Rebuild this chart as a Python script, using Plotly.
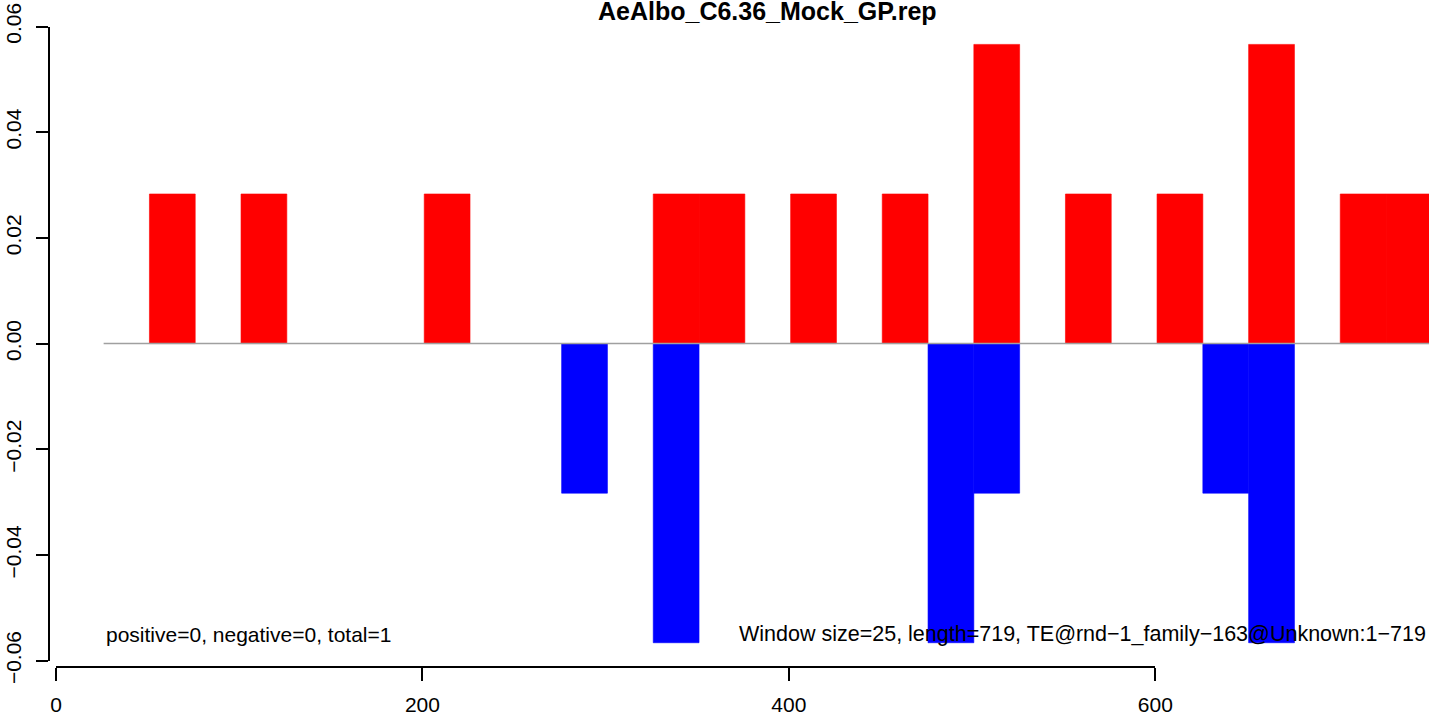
import plotly.graph_objects as go

# ---- data ----
window_size = 25
window_start = [1 + 25 * i for i in range(30)]  # window starts (1-based positions)
pos_values = [0, 0, 0.0283, 0, 0.0283, 0, 0, 0, 0.0283, 0,
              0, 0, 0, 0.0283, 0.0283, 0, 0.0283, 0, 0.0283, 0,
              0.0566, 0, 0.0283, 0, 0.0283, 0, 0.0566, 0, 0.0283, 0.0283]
neg_values = [0, 0, 0, 0, 0, 0, 0, 0, 0, 0,
              0, -0.0283, 0, -0.0566, 0, 0, 0, 0, 0, -0.0566,
              -0.0283, 0, 0, 0, 0, -0.0283, -0.0566, 0, 0, 0]
baseline_x = [26, 751]
baseline_y = [0, 0]
x_ticks = [0, 200, 400, 600]
y_ticks = [-0.06, -0.04, -0.02, 0.0, 0.02, 0.04, 0.06]
y_ticktext = ["\u22120.06", "\u22120.04", "\u22120.02", "0.00", "0.02", "0.04", "0.06"]
title_text = "AeAlbo_C6.36_Mock_GP.rep"
left_note = "positive=0, negative=0, total=1"
right_note = "Window size=25, length=719, TE@rnd\u22121_family\u2212163@Unknown:1\u2212719"

centers = [s + window_size / 2 for s in window_start]
# empty windows draw nothing (avoid zero-height outlines)
pos_plot = [v if v != 0 else None for v in pos_values]
neg_plot = [v if v != 0 else None for v in neg_values]

FONT = "Liberation Sans, Arial, Helvetica, sans-serif"

fig = go.Figure()
fig.add_trace(go.Bar(x=centers, y=pos_plot, width=window_size, base=0,
                     marker=dict(color="#FF0000", line=dict(width=0.6, color="#FF0000")),
                     hoverinfo="skip"))
fig.add_trace(go.Scatter(x=baseline_x, y=baseline_y, mode="lines",
                         line=dict(color="#A0A0A0", width=1.6), hoverinfo="skip"))
fig.add_trace(go.Bar(x=centers, y=neg_plot, width=window_size, base=0,
                     marker=dict(color="#0000FF", line=dict(width=0.6, color="#0000FF")),
                     hoverinfo="skip"))
# helper traces so the R-style axes (x2 / y2) get drawn
fig.add_trace(go.Scatter(x=[0], y=[0], xaxis="x2", yaxis="y", mode="markers",
                         marker=dict(opacity=0), hoverinfo="skip"))
fig.add_trace(go.Scatter(x=[0], y=[0], xaxis="x", yaxis="y2", mode="markers",
                         marker=dict(opacity=0), hoverinfo="skip"))

fig.update_layout(
    width=1429, height=712,
    margin=dict(l=50, r=0, t=0, b=46, autoexpand=False),
    plot_bgcolor="rgba(0,0,0,0)", paper_bgcolor="white",
    showlegend=False, barmode="overlay",
    font=dict(family=FONT, size=21, color="black"),
    xaxis=dict(range=[-3.275, 749.45], showline=False, showticklabels=False,
               ticks="", showgrid=False, zeroline=False, automargin=False),
    yaxis=dict(range=[-0.0610, 0.0650], showline=False, showticklabels=False,
               ticks="", showgrid=False, zeroline=False, automargin=False),
    xaxis2=dict(domain=[0.004351, 0.80152], range=[0, 600], anchor="y",
                tickmode="array", tickvals=x_ticks, ticks="outside", ticklen=13,
                tickwidth=1.5, tickcolor="black", showline=True, linewidth=1.5,
                linecolor="black", showgrid=False, zeroline=False, automargin=False,
                tickfont=dict(family=FONT, size=21, color="black"),
                ticklabelstandoff=6),
    yaxis2=dict(domain=[0.00796, 0.96021], range=[-0.06, 0.06], anchor="x",
                side="left", tickmode="array", tickvals=y_ticks, ticktext=y_ticktext,
                tickangle=-90, ticks="outside", ticklen=12.7, tickwidth=1.5,
                tickcolor="black", showline=True, linewidth=1.5, linecolor="black",
                showgrid=False, zeroline=False, automargin=False,
                tickfont=dict(family=FONT, size=21, color="black"),
                ticklabelstandoff=6),
    annotations=[
        dict(text="<b>" + title_text + "</b>", xref="paper", yref="paper",
             x=0.5203, y=1.0, xanchor="center", yanchor="middle", yshift=-11,
             showarrow=False, font=dict(family=FONT, size=25, color="black")),
        dict(text=left_note, xref="x", yref="y", x=26, y=-0.055,
             xanchor="left", yanchor="middle", showarrow=False,
             font=dict(family=FONT, size=21, color="black")),
        dict(text=right_note, xref="x", yref="y", x=371.7, y=-0.055,
             xanchor="left", yanchor="middle", showarrow=False,
             font=dict(family=FONT, size=21.5, color="black")),
    ],
)

fig.write_html("out.html", config={"displayModeBar": False},
               post_script="document.body.style.margin='0';document.body.style.padding='0';document.body.style.overflow='hidden';")
